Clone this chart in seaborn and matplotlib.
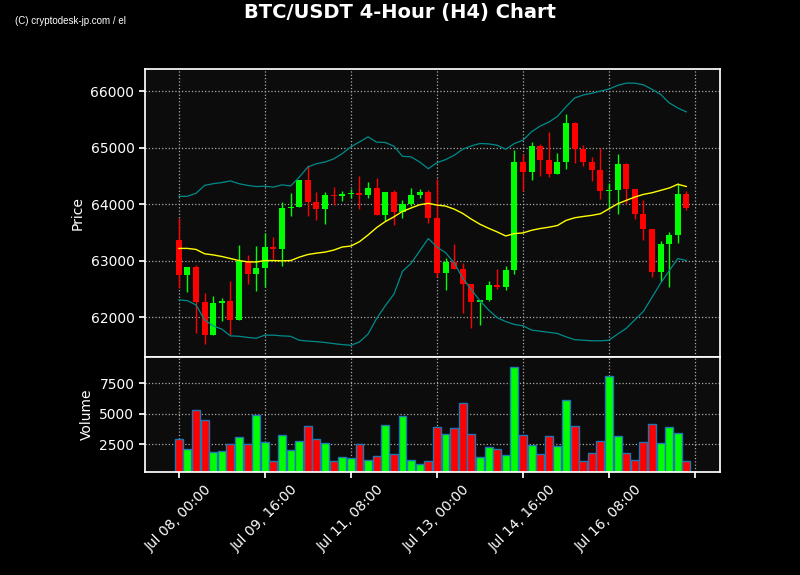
import numpy as np
import pandas as pd
import matplotlib
matplotlib.use("Agg")
import matplotlib.pyplot as plt
import seaborn as sns

# OHLC for 60 four-hour candles
opens = [63364, 62745, 62880, 62275, 61674, 62257, 62280, 61942, 63000, 62763,
         62870, 63240, 63210, 63935, 63953, 64417, 64030, 63905, 64161, 64140,
         64170, 64200, 64160, 64292, 63800, 64220, 63860, 64000, 64167, 64220,
         63762, 62780, 62977, 62857, 62584, 62262, 62310, 62560, 62530, 62830,
         64738, 64566, 65036, 64780, 64530, 64740, 65432, 64970, 64745, 64600,
         64230, 64250, 64704, 64260, 63822, 63555, 62804, 63300, 63460, 64170]
closes = [62745, 62880, 62262, 61674, 62257, 62280, 61942, 63000, 62763, 62870,
          63240, 63210, 63935, 63953, 64417, 64030, 63905, 64161, 64140, 64170,
          64200, 64160, 64292, 63800, 64220, 63860, 64000, 64167, 64220, 63762,
          62780, 62977, 62857, 62584, 62262, 62310, 62560, 62530, 62830, 64738,
          64566, 65036, 64780, 64530, 64740, 65432, 64970, 64745, 64600, 64230,
          64250, 64704, 64260, 63822, 63555, 62804, 63300, 63460, 64170, 63930]
highs = [63745, 62880, 62930, 62424, 62376, 62340, 62630, 63268, 63090, 63257,
         63490, 63417, 64042, 64203, 64417, 64697, 64215, 64220, 64298, 64230,
         64260, 64500, 64387, 64464, 64220, 64240, 64078, 64280, 64260, 64250,
         64440, 63050, 63286, 62965, 62584, 62262, 62640, 62858, 62910, 64952,
         64893, 65100, 65070, 65280, 64911, 65600, 65455, 65053, 64834, 64994,
         64378, 64893, 64720, 64260, 64065, 63555, 63340, 63508, 64380, 64230]
lows = [62513, 62450, 61722, 61519, 61674, 61930, 61680, 61942, 62590, 62453,
        62530, 63036, 62911, 63786, 63953, 63786, 63715, 63643, 63988, 64050,
        64100, 63905, 64100, 63800, 63700, 63626, 63750, 63960, 64100, 63667,
        62715, 62483, 62857, 62078, 61805, 61858, 62280, 62500, 62477, 62763,
        64238, 64417, 64490, 64480, 64530, 64615, 64734, 64680, 64402, 64082,
        63905, 63828, 64000, 63740, 63372, 62715, 62644, 62537, 63313, 63887]
volumes = [2907, 2088, 5283, 4464, 1843, 1952, 2498, 3071, 2498, 4900,
           2662, 1133, 3235, 2007, 2744, 3972, 2907, 2580, 1133, 1433,
           1351, 2498, 1188, 1515, 4054, 1679, 4791, 1188, 860, 1133,
           3890, 3317, 3808, 5856, 3317, 1433, 2252, 2088, 1651, 8804,
           3235, 2416, 1679, 3153, 2334, 6102, 3972, 1133, 1761, 2744,
           8067, 3153, 1761, 1188, 2662, 4136, 2580, 3890, 3399, 1106]

# 20-period moving average and Bollinger bands
ma = [63215, 63215, 63197, 63120, 63100, 63072, 63036, 63000, 62977, 62975,
      63000, 63000, 62995, 63000, 63060, 63107, 63131, 63150, 63185, 63240,
      63257, 63334, 63453, 63584, 63690, 63774, 63870, 63930, 63988, 64012,
      63982, 63964, 63911, 63834, 63733, 63643, 63572, 63507, 63435, 63477,
      63489, 63536, 63567, 63590, 63620, 63710, 63757, 63780, 63800, 63828,
      63917, 64005, 64065, 64124, 64171, 64200, 64242, 64284, 64350, 64310]
upper = [64137, 64137, 64190, 64330, 64360, 64380, 64410, 64360, 64330, 64310,
         64315, 64300, 64340, 64320, 64476, 64655, 64714, 64744, 64800, 64893,
         65012, 65100, 65190, 65095, 65090, 65024, 64845, 64835, 64744, 64625,
         64732, 64786, 64863, 64970, 65030, 65071, 65065, 65040, 64970, 65071,
         65130, 65280, 65380, 65450, 65550, 65720, 65876, 65930, 65960, 66000,
         66035, 66100, 66140, 66140, 66110, 66030, 65940, 65790, 65700, 65630]
lower = [62305, 62290, 62215, 61950, 61845, 61787, 61667, 61660, 61640, 61625,
         61680, 61680, 61667, 61660, 61590, 61575, 61565, 61550, 61530, 61513,
         61500, 61560, 61700, 61977, 62200, 62405, 62810, 62950, 63170, 63390,
         63240, 63140, 62960, 62690, 62483, 62290, 62126, 61990, 61920, 61870,
         61846, 61770, 61750, 61730, 61710, 61650, 61600, 61590, 61580, 61580,
         61590, 61700, 61800, 61950, 62100, 62350, 62600, 62820, 63036, 63000]

tick_labels = ["Jul 08, 00:00", "Jul 09, 16:00", "Jul 11, 08:00",
               "Jul 13, 00:00", "Jul 14, 16:00", "Jul 16, 08:00", ""]

df = pd.DataFrame({"open": opens, "high": highs, "low": lows, "close": closes,
                   "volume": volumes, "ma": ma, "upper": upper, "lower": lower})
df["idx"] = np.arange(len(df))
df["up"] = df["close"] >= df["open"]
colors = np.where(df["up"], "#00ff00", "#ff0000")

sns.set_theme(style="dark")
plt.rcParams["font.family"] = ["DejaVu Sans"]

fig = plt.figure(figsize=(8, 5.75), dpi=100, facecolor="black")
ax = fig.add_axes([0.181, 0.379, 0.719, 0.501])
axv = fig.add_axes([0.181, 0.179, 0.719, 0.200], sharex=ax)

for a in (ax, axv):
    a.set_facecolor("#0c0c0c")
    for s in a.spines.values():
        s.set_color("white")
    a.tick_params(colors="white", labelsize=10, length=4, direction="out",
                  bottom=True, left=True)
    a.grid(True, color="#aaaaaa", linestyle=":", linewidth=0.9)

# candles
ax.vlines(df["idx"], df["low"], df["high"], colors=colors, linewidth=1)
body = (df["close"] - df["open"]).abs().clip(lower=20)
ax.bar(df["idx"], body, bottom=df[["open", "close"]].min(axis=1),
       width=0.7, color=colors, linewidth=0)

sns.lineplot(x=df["idx"], y=df["upper"], ax=ax, color="#008b8b", linewidth=0.9)
sns.lineplot(x=df["idx"], y=df["lower"], ax=ax, color="#008b8b", linewidth=0.9)
sns.lineplot(x=df["idx"], y=df["ma"], ax=ax, color="#ffff00", linewidth=1.0)

ax.set_ylim(61292, 66390)
ax.set_xlim(-3.95, 62.9)
ax.set_yticks([62000, 63000, 64000, 65000, 66000])
ax.set_ylabel("Price", color="white", fontsize=10)
ax.set_xlabel("")
plt.setp(ax.get_xticklabels(), visible=False)

# volume
axv.bar(df["idx"], df["volume"], width=0.92, color=colors,
        edgecolor="#1f77b4", linewidth=1)
axv.set_ylim(230, 9630)
axv.set_yticks([2500, 5000, 7500])
axv.set_ylabel("Volume", color="white", fontsize=10)
axv.set_xticks(np.arange(0, 61, 10))
axv.set_xticklabels(tick_labels, rotation=45, ha="center")

fig.suptitle("BTC/USDT 4-Hour (H4) Chart", color="white", fontsize=14,
             fontweight="bold", y=0.995)
fig.text(0.019, 0.958, "(C) cryptodesk-jp.com / el", color="white", fontsize=7,
         family=["Liberation Sans Narrow", "Liberation Sans", "DejaVu Sans"])

fig.savefig("out.png", dpi=100, facecolor="black")
